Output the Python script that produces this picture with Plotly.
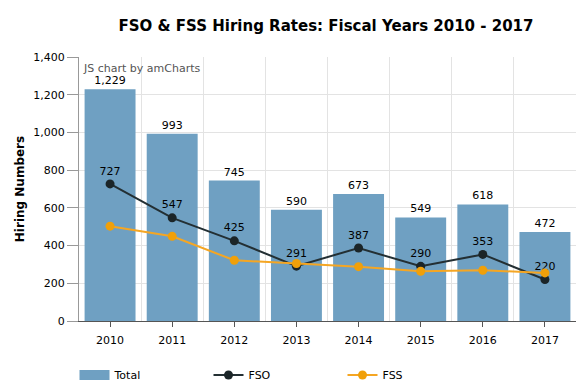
import plotly.graph_objects as go

years = ["2010", "2011", "2012", "2013", "2014", "2015", "2016", "2017"]
total = [1229, 993, 745, 590, 673, 549, 618, 472]
fso = [727, 547, 425, 291, 387, 290, 353, 220]
fss = [503, 449, 322, 305, 288, 264, 269, 255]
yticks = [0, 200, 400, 600, 800, 1000, 1200, 1400]

idx = list(range(len(years)))
FONT = "DejaVu Sans"
BAR_COLOR = "#6fa0c2"
W, H = 579, 384  # page body has 8px default margin

fig = go.Figure()
fig.add_trace(go.Bar(
    x=idx, y=total, name="Total", showlegend=False,
    marker=dict(color=BAR_COLOR, line=dict(width=0)),
    cliponaxis=False, width=0.82, hoverinfo="x+y",
))
# value labels just above the bars
fig.add_trace(go.Scatter(
    x=idx, y=total, mode="markers+text", showlegend=False, hoverinfo="skip",
    marker=dict(size=2, opacity=0, color=BAR_COLOR),
    text=[f"{v:,}" for v in total], textposition="top center",
    textfont=dict(family=FONT, size=11, color="#000000"),
    cliponaxis=False,
))
# legend swatch for the bars (wide rectangle like the original)
fig.add_trace(go.Scatter(
    x=[None], y=[None], name="Total", mode="lines",
    line=dict(color=BAR_COLOR, width=17), showlegend=True,
))
fig.add_trace(go.Scatter(
    x=idx, y=fso, name="FSO", mode="lines+markers+text",
    line=dict(color="#232f33", width=2),
    marker=dict(color="#1b2528", size=9),
    text=[str(v) for v in fso], textposition="top center",
    textfont=dict(family=FONT, size=11, color="#000000"),
    cliponaxis=False,
))
fig.add_trace(go.Scatter(
    x=idx, y=fss, name="FSS", mode="lines+markers",
    line=dict(color="#f5a623", width=2),
    marker=dict(color="#f0a00a", size=9),
    cliponaxis=False,
))

fig.update_layout(
    width=W, height=H,
    margin=dict(l=71, r=11, t=49, b=71, autoexpand=False),
    paper_bgcolor="white", plot_bgcolor="white",
    font=dict(family=FONT, size=11, color="#000000"),
    title=dict(text="<b>FSO & FSS Hiring Rates: Fiscal Years 2010 - 2017</b>",
               x=318 / W, xref="container", y=1 - 18 / H, yref="container",
               xanchor="center", yanchor="middle",
               font=dict(family=FONT, size=15, color="#000000")),
    showlegend=True,
    legend=dict(orientation="h", xref="container", yref="container",
                x=66.5 / W, y=17 / H, xanchor="left", yanchor="middle",
                font=dict(family=FONT, size=11, color="#000000"),
                entrywidth=89, entrywidthmode="pixels", traceorder="normal"),
    xaxis=dict(
        range=[-0.5, 7.5], tickmode="array", tickvals=idx, ticktext=years,
        showgrid=False, zeroline=False,
        showline=True, linecolor="#555555", linewidth=1,
        ticks="outside", ticklen=5, tickcolor="#555555",
        ticklabelstandoff=4,
        tickfont=dict(family=FONT, size=11, color="#000000"),
        minor=dict(tickmode="array", tickvals=[i + 0.5 for i in idx],
                   showgrid=True, gridcolor="#e3e3e3", gridwidth=1, ticks=""),
        fixedrange=True,
    ),
    yaxis=dict(
        range=[0, 1400], tickmode="array", tickvals=yticks,
        ticktext=[f"{v:,}" for v in yticks],
        showgrid=True, gridcolor="#e3e3e3", gridwidth=1, zeroline=False,
        showline=True, linecolor="#999999", linewidth=1,
        ticks="outside", ticklen=11, tickcolor="#999999",
        tickfont=dict(family=FONT, size=11, color="#000000"),
        title=dict(text="<b>Hiring Numbers</b>", standoff=6,
                   font=dict(family=FONT, size=12, color="#000000")),
        fixedrange=True,
    ),
    annotations=[dict(text="JS chart by amCharts", xref="paper", yref="paper",
                      x=0.005, y=0.99, xanchor="left", yanchor="top",
                      showarrow=False,
                      font=dict(family=FONT, size=11, color="#555555"))],
)

fig.write_html("out.html")
